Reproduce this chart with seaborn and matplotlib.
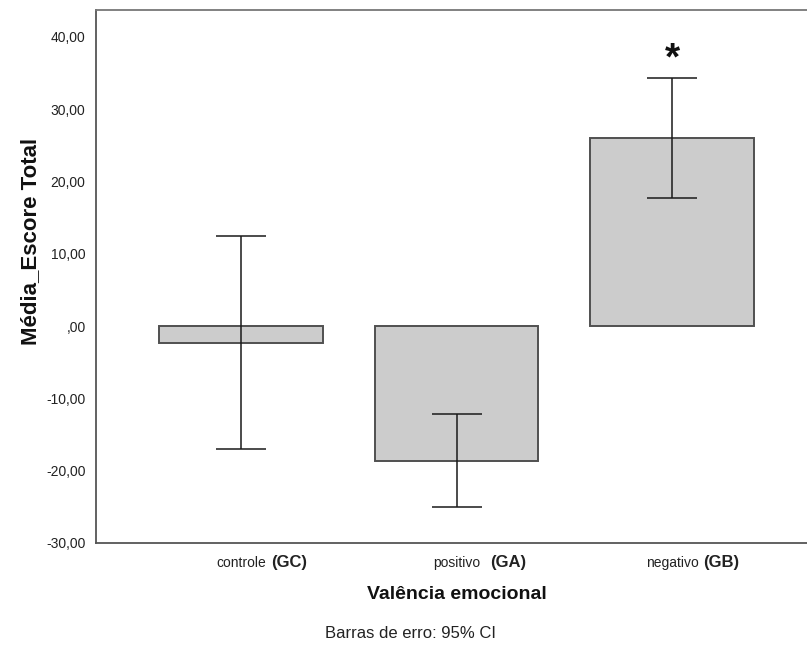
import numpy as np
import pandas as pd
import matplotlib
matplotlib.use("Agg")
import matplotlib.pyplot as plt
import matplotlib.transforms as mtransforms
import seaborn as sns

# Valência emocional: médias do escore total com IC de 95%
categorias = ["controle", "positivo", "negativo"]
grupos = ["(GC)", "(GA)", "(GB)"]
medias = [-2.35, -18.65, 26.0]
ic_inferior = [-17.0, -25.0, 17.7]
ic_superior = [12.45, -12.15, 34.3]
yticks = [-30, -20, -10, 0, 10, 20, 30, 40]

sns.set_style("white")
plt.rcParams["font.family"] = ["Liberation Sans", "DejaVu Sans"]

df = pd.DataFrame({"Valência emocional": categorias, "Média_Escore Total": medias})

fig = plt.figure(figsize=(8.07, 6.46), dpi=100)
W, H = 807, 646
ax = fig.add_axes([96 / W, 103 / H, (810 - 96) / W, (543 - 10) / H])

sns.barplot(data=df, x="Valência emocional", y="Média_Escore Total",
            color="#cccccc", saturation=1, edgecolor="#505050", linewidth=1.4,
            width=0.76, errorbar=None, ax=ax, zorder=2)

med = np.array(medias)
yerr = np.vstack([med - np.array(ic_inferior), np.array(ic_superior) - med])
ax.errorbar(np.arange(len(categorias)), med, yerr=yerr, fmt="none",
            ecolor="#1a1a1a", elinewidth=1.1, capsize=18, capthick=1.1, zorder=3)

ax.set_xlim(-0.673, 2.64)
ax.set_ylim(-30, 43.7)

def rotulo(v):
    s = f"{v:.2f}".replace(".", ",")
    return ",00" if v == 0 else s

ax.set_yticks(yticks)
ax.set_yticklabels([rotulo(v) for v in yticks], fontsize=10, color="#222222")
ax.set_xticks(range(len(categorias)))
ax.set_xticklabels([""] * len(categorias))
ax.tick_params(axis="both", direction="out", length=6, width=1.0, color="#444444")
ax.tick_params(axis="y", pad=1.5)
ax.tick_params(axis="x", pad=2)

for side in ["left", "bottom", "top", "right"]:
    ax.spines[side].set_color("#555555")
    ax.spines[side].set_linewidth(1.3)
ax.spines["top"].set_color("#777777")

# rótulos das categorias: palavra normal + sigla do grupo em negrito
trans = mtransforms.blended_transform_factory(ax.transData, ax.transAxes)
for i, (cat, grp) in enumerate(zip(categorias, grupos)):
    t = ax.text(i, -0.0507, cat, transform=trans, ha="center", va="bottom",
                fontsize=10, color="#222222")
    gap = 7 if grp == "(GA)" else 3.5
    ax.annotate(grp, xy=(1, 0), xycoords=t, xytext=(gap, 0),
                textcoords="offset points", ha="left", va="bottom",
                fontsize=12, fontweight="bold", color="#222222")

ax.set_xlabel("Valência emocional", fontsize=14, fontweight="bold",
              color="#111111", va="center")
ax.xaxis.set_label_coords(0.5056, -0.0965)
ax.set_ylabel("Média_Escore Total", fontsize=16, fontweight="bold",
              color="#111111", va="center", ha="center")
ax.yaxis.set_label_coords(-0.0915, 0.565)

# marcador de significância acima do grupo negativo
ax.text(2, 36.8, "*", ha="center", va="center", fontsize=28,
        fontweight="bold", color="#111111")

fig.text(410 / W, 1 - 634 / H, "Barras de erro: 95% CI", ha="center",
         va="center", fontsize=12, color="#222222")

fig.savefig("out.png", dpi=100)
